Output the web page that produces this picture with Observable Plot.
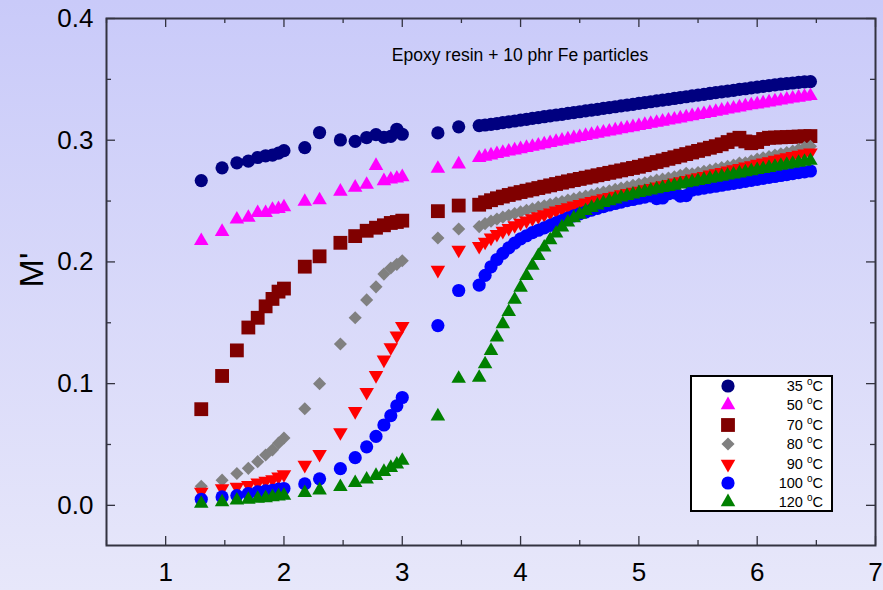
<!DOCTYPE html>
<html><head><meta charset="utf-8">
<script src="https://cdn.jsdelivr.net/npm/d3@7"></script>
<script src="https://cdn.jsdelivr.net/npm/@observablehq/plot@0.6"></script>
<style>
html,body{margin:0;padding:0;}
body{width:883px;height:590px;overflow:hidden;position:relative;
  background:linear-gradient(180deg,#c9caf9 0%,#e7e7fa 100%);
  font-family:"Liberation Sans",Arial,Helvetica,sans-serif;}
#chart{position:absolute;left:0;top:0;}
#title{position:absolute;left:320px;top:45px;width:400px;text-align:center;font-size:17.5px;color:#000;}
#ylab{position:absolute;left:31px;top:270px;font-size:34px;color:#000;transform:translate(-50%,-50%) rotate(-90deg);white-space:nowrap;}
#legend{position:absolute;left:690px;top:375px;width:143px;height:137px;box-sizing:border-box;border:2px solid #000;background:#fff;}
.row{position:absolute;left:0;width:139px;height:19px;}
.row svg{position:absolute;left:26px;top:-1px;}
.row span{position:absolute;right:8px;top:1px;font-size:14.5px;color:#000;}
.row sup{font-size:10px;vertical-align:6px;line-height:0;}
</style></head>
<body>
<div id="chart"></div>
<div id="title">Epoxy resin + 10 phr Fe particles</div>
<div id="ylab">M'</div>
<div id="legend"></div>
<script>
// log10(frequency) positions shared by all series
const xs = [1.301, 1.477, 1.602, 1.699, 1.778, 1.845, 1.903, 1.954, 2.0, 2.176, 2.301, 2.477, 2.602, 2.699, 2.778, 2.845, 2.903, 2.954, 3.0, 3.301, 3.477,
  3.65, 3.70, 3.75, 3.80, 3.85, 3.90, 3.95, 4.00, 4.05, 4.10, 4.15, 4.20, 4.25, 4.30, 4.35, 4.40, 4.45, 4.50, 4.55, 4.60, 4.65, 4.70, 4.75, 4.80, 4.85, 4.90, 4.95,
  5.00, 5.05, 5.10, 5.15, 5.20, 5.25, 5.30, 5.35, 5.40, 5.45, 5.50, 5.55, 5.60, 5.65, 5.70, 5.75, 5.80, 5.85, 5.90, 5.95,
  6.00, 6.05, 6.10, 6.15, 6.20, 6.25, 6.30, 6.35, 6.40, 6.45];

const m35 = [0.2668, 0.2773, 0.2814, 0.2828, 0.2858, 0.2872, 0.2877, 0.2894, 0.2914, 0.2939, 0.3063, 0.3002, 0.2991, 0.3022, 0.3046, 0.3024, 0.3032, 0.3090, 0.3049, 0.3060, 0.3110,
  0.3120, 0.3125, 0.3130, 0.3137, 0.3144, 0.3151, 0.3158, 0.3165, 0.3172, 0.3179, 0.3186, 0.3193, 0.3200, 0.3207, 0.3213, 0.3220, 0.3227, 0.3234, 0.3241, 0.3248, 0.3254, 0.3261, 0.3268, 0.3275, 0.3282, 0.3289, 0.3295,
  0.3302, 0.3309, 0.3316, 0.3323, 0.3330, 0.3336, 0.3343, 0.3350, 0.3357, 0.3364, 0.3370, 0.3377, 0.3384, 0.3391, 0.3397, 0.3404, 0.3410, 0.3417, 0.3423, 0.3430,
  0.3436, 0.3442, 0.3448, 0.3454, 0.3460, 0.3465, 0.3470, 0.3475, 0.3479, 0.3482];

const m50 = [0.2173, 0.2248, 0.2350, 0.2364, 0.2403, 0.2403, 0.2430, 0.2436, 0.2450, 0.2496, 0.2508, 0.2579, 0.2612, 0.2635, 0.2790, 0.2665, 0.2679, 0.2687, 0.2698, 0.2767, 0.2803,
  0.2855, 0.2866, 0.2877, 0.2888, 0.2898, 0.2908, 0.2918, 0.2928, 0.2938, 0.2948, 0.2958, 0.2968, 0.2978, 0.2988, 0.2998, 0.3008, 0.3018, 0.3028, 0.3037, 0.3046, 0.3055, 0.3064, 0.3073, 0.3082, 0.3091, 0.3100, 0.3109,
  0.3118, 0.3127, 0.3136, 0.3145, 0.3154, 0.3163, 0.3172, 0.3181, 0.3190, 0.3199, 0.3208, 0.3217, 0.3226, 0.3235, 0.3244, 0.3253, 0.3262, 0.3271, 0.3280, 0.3288,
  0.3296, 0.3304, 0.3312, 0.3320, 0.3328, 0.3336, 0.3344, 0.3351, 0.3358, 0.3364];

const m70 = [0.0790, 0.1063, 0.1273, 0.1461, 0.1541, 0.1635, 0.1696, 0.1756, 0.1781, 0.1961, 0.2046, 0.2157, 0.2212, 0.2256, 0.2281, 0.2301, 0.2320, 0.2328, 0.2339, 0.2417, 0.2463,
  0.2470, 0.2490, 0.2507, 0.2523, 0.2537, 0.2550, 0.2562, 0.2574, 0.2585, 0.2596, 0.2607, 0.2618, 0.2629, 0.2640, 0.2651, 0.2662, 0.2672, 0.2682, 0.2692, 0.2702, 0.2712, 0.2722, 0.2732, 0.2742, 0.2752, 0.2762, 0.2772,
  0.2782, 0.2795, 0.2808, 0.2821, 0.2834, 0.2847, 0.2860, 0.2873, 0.2886, 0.2899, 0.2912, 0.2925, 0.2938, 0.2951, 0.2966, 0.2985, 0.3005, 0.3020, 0.2990, 0.2975,
  0.2985, 0.3010, 0.3020, 0.3022, 0.3024, 0.3026, 0.3028, 0.3030, 0.3032, 0.3034];

const m80 = [0.0157, 0.0207, 0.0262, 0.0304, 0.0359, 0.0414, 0.0456, 0.0511, 0.0553, 0.0793, 0.1000, 0.1326, 0.1541, 0.1688, 0.1795, 0.1900, 0.1950, 0.1980, 0.2010, 0.2196, 0.2270,
  0.2290, 0.2315, 0.2335, 0.2352, 0.2368, 0.2383, 0.2397, 0.2411, 0.2424, 0.2437, 0.2450, 0.2462, 0.2474, 0.2486, 0.2497, 0.2508, 0.2519, 0.2530, 0.2541, 0.2552, 0.2563, 0.2574, 0.2585, 0.2596, 0.2607, 0.2618, 0.2629,
  0.2640, 0.2650, 0.2660, 0.2672, 0.2680, 0.2690, 0.2700, 0.2712, 0.2728, 0.2725, 0.2735, 0.2745, 0.2755, 0.2765, 0.2775, 0.2785, 0.2795, 0.2812, 0.2815, 0.2830,
  0.2845, 0.2855, 0.2865, 0.2878, 0.2888, 0.2898, 0.2910, 0.2925, 0.2940, 0.2950];

const m90 = [0.0110, 0.0138, 0.0152, 0.0166, 0.0185, 0.0201, 0.0213, 0.0235, 0.0254, 0.0331, 0.0420, 0.0599, 0.0773, 0.0930, 0.1069, 0.1196, 0.1298, 0.1394, 0.1472, 0.1933, 0.2099,
  0.2130, 0.2165, 0.2198, 0.2228, 0.2254, 0.2278, 0.2300, 0.2320, 0.2339, 0.2357, 0.2374, 0.2390, 0.2405, 0.2420, 0.2434, 0.2448, 0.2461, 0.2474, 0.2486, 0.2498, 0.2510, 0.2521, 0.2532, 0.2543, 0.2554, 0.2564, 0.2574,
  0.2584, 0.2595, 0.2606, 0.2617, 0.2628, 0.2639, 0.2650, 0.2661, 0.2672, 0.2683, 0.2694, 0.2705, 0.2716, 0.2727, 0.2738, 0.2749, 0.2760, 0.2771, 0.2782, 0.2793,
  0.2804, 0.2815, 0.2826, 0.2837, 0.2848, 0.2859, 0.2869, 0.2879, 0.2889, 0.2898];

const m100 = [0.0050, 0.0069, 0.0080, 0.0097, 0.0110, 0.0118, 0.0124, 0.0133, 0.0138, 0.0176, 0.0218, 0.0301, 0.0392, 0.0481, 0.0566, 0.0660, 0.0737, 0.0818, 0.0886, 0.1477, 0.1765,
  0.1810, 0.1890, 0.1960, 0.2020, 0.2070, 0.2115, 0.2155, 0.2190, 0.2215, 0.2240, 0.2260, 0.2280, 0.2300, 0.2320, 0.2340, 0.2360, 0.2378, 0.2395, 0.2410, 0.2425, 0.2440, 0.2455, 0.2468, 0.2480, 0.2492, 0.2503, 0.2513,
  0.2523, 0.2533, 0.2543, 0.2520, 0.2525, 0.2560, 0.2568, 0.2540, 0.2545, 0.2590, 0.2598, 0.2606, 0.2614, 0.2622, 0.2630, 0.2638, 0.2646, 0.2654, 0.2662, 0.2670,
  0.2678, 0.2686, 0.2694, 0.2702, 0.2710, 0.2718, 0.2726, 0.2733, 0.2740, 0.2747];

const m120 = [0.0014, 0.0027, 0.0041, 0.0047, 0.0055, 0.0060, 0.0069, 0.0075, 0.0080, 0.0102, 0.0124, 0.0152, 0.0185, 0.0213, 0.0243, 0.0276, 0.0309, 0.0337, 0.0367, 0.0732, 0.1041,
  0.1050, 0.1160, 0.1270, 0.1380, 0.1490, 0.1590, 0.1690, 0.1790, 0.1885, 0.1970, 0.2050, 0.2120, 0.2180, 0.2235, 0.2285, 0.2325, 0.2360, 0.2390, 0.2420, 0.2445, 0.2465, 0.2485, 0.2500, 0.2515, 0.2530, 0.2543, 0.2555,
  0.2567, 0.2578, 0.2588, 0.2598, 0.2608, 0.2618, 0.2628, 0.2638, 0.2648, 0.2657, 0.2666, 0.2675, 0.2684, 0.2693, 0.2702, 0.2711, 0.2720, 0.2729, 0.2738, 0.2747,
  0.2756, 0.2765, 0.2774, 0.2783, 0.2792, 0.2800, 0.2808, 0.2816, 0.2824, 0.2832];

const seriesLabels = ["35", "50", "70", "80", "90", "100", "120"];
const seriesValues = [m35, m50, m70, m80, m90, m100, m120];
const seriesColors = ["#000080", "#ff00ff", "#800000", "#808080", "#ff0000", "#0000ff", "#008000"];
const seriesSymbols = ["circle", "triangle", "square", "diamond2", "triangle", "circle", "triangle"];
const seriesRotate = [0, 0, 0, 0, 180, 0, 0];
const seriesR = [6.6, 5.4, 7.8, 5.9, 5.4, 6.6, 5.4];

const xTicks = [1, 2, 3, 4, 5, 6, 7];
const xMinor = [0.5, 1.5, 2.5, 3.5, 4.5, 5.5, 6.5];
const yTicks = [0, 0.1, 0.2, 0.3, 0.4];
const yMinor = [0.05, 0.15, 0.25, 0.35];

const W = 883, H = 590, mL = 106, mR = 8, mT = 18, mB = 45;
const iW = W - mL - mR, iH = H - mT - mB;
const axisColor = "#333340";

const marks = [];
seriesValues.forEach((vals, k) => {
  const rows = xs.map((x, i) => ({x, y: vals[i]}));
  marks.push(Plot.dot(rows, {x: "x", y: "y", symbol: () => seriesSymbols[k], fill: seriesColors[k], stroke: "none",
    r: seriesR[k], rotate: seriesRotate[k]}));
});

const chart = Plot.plot({
  width: W, height: H,
  marginLeft: mL, marginRight: mR, marginTop: mT, marginBottom: mB,
  x: {domain: [0.5, 7]},
  y: {domain: [-0.033, 0.4]},
  symbol: {type: "identity"},
  style: {background: "transparent", fontFamily: "'Liberation Sans', Arial, sans-serif", overflow: "visible"},
  marks: [
    ...marks,
    Plot.frame({stroke: axisColor, strokeWidth: 2}),
    Plot.ruleX(xTicks, {x: d => d, insetTop: iH - 9, stroke: axisColor, strokeWidth: 1.3}),
    Plot.ruleX(xMinor, {x: d => d, insetTop: iH - 5, stroke: axisColor, strokeWidth: 1.3}),
    Plot.ruleX(xTicks, {x: d => d, insetBottom: iH - 9, stroke: axisColor, strokeWidth: 1.3}),
    Plot.ruleX(xMinor, {x: d => d, insetBottom: iH - 5, stroke: axisColor, strokeWidth: 1.3}),
    Plot.ruleY(yTicks, {y: d => d, insetRight: iW - 9, stroke: axisColor, strokeWidth: 1.3}),
    Plot.ruleY(yMinor, {y: d => d, insetRight: iW - 5, stroke: axisColor, strokeWidth: 1.3}),
    Plot.ruleY(yTicks, {y: d => d, insetLeft: iW - 9, stroke: axisColor, strokeWidth: 1.3}),
    Plot.ruleY(yMinor, {y: d => d, insetLeft: iW - 5, stroke: axisColor, strokeWidth: 1.3}),
    Plot.axisX(xTicks, {tickSize: 0, tickPadding: 17, fontSize: 26, tickFormat: d => String(d), label: null, fill: "#000"}),
    Plot.axisY(yTicks, {tickSize: 0, tickPadding: 13, fontSize: 26, tickFormat: d3.format(".1f"), label: null, fill: "#000"})
  ]
});
document.getElementById("chart").appendChild(chart);

// legend
const legend = document.getElementById("legend");
const symMap = {circle: d3.symbolCircle, triangle: d3.symbolTriangle, square: d3.symbolSquare, diamond2: d3.symbolDiamond2};
seriesLabels.forEach((lab, k) => {
  const row = document.createElement("div");
  row.className = "row";
  row.style.top = (k * 19.4) + "px";
  const svg = d3.create("svg").attr("width", 20).attr("height", 20);
  svg.append("path")
    .attr("d", d3.symbol(symMap[seriesSymbols[k]], Math.PI * seriesR[k] * seriesR[k])())
    .attr("transform", `translate(10,10) rotate(${seriesRotate[k]})`)
    .attr("fill", seriesColors[k]);
  row.appendChild(svg.node());
  const span = document.createElement("span");
  span.innerHTML = lab + " <sup>o</sup>C";
  row.appendChild(span);
  legend.appendChild(row);
});
</script>
</body></html>
